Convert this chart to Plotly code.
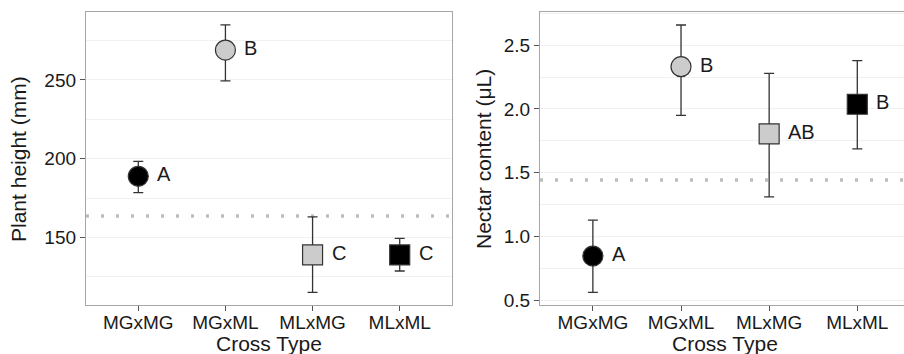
import plotly.graph_objects as go
from plotly.subplots import make_subplots

categories = ["MGxMG", "MGxML", "MLxMG", "MLxML"]

height_mean = [188.8, 269.0, 138.8, 138.8]
height_upper = [198.3, 285.0, 163.0, 149.4]
height_lower = [178.4, 249.4, 115.0, 128.6]
height_letters = ["A", "B", "C", "C"]
height_ref = 163.5

nectar_mean = [0.845, 2.332, 1.804, 2.037]
nectar_upper = [1.128, 2.659, 2.280, 2.379]
nectar_lower = [0.560, 1.950, 1.309, 1.686]
nectar_letters = ["A", "B", "AB", "B"]
nectar_ref = 1.443

symbols = ["circle", "circle", "square", "square"]
fills = ["#000000", "#cccccc", "#cccccc", "#000000"]

FONT = "Liberation Sans, Arial, Helvetica, sans-serif"
TXT = "#1a1a1a"

W, H = 904, 354
MT, MB = 12, 49
PH = H - MT - MB

fig = make_subplots(rows=1, cols=2)


def add_panel(col, mean, upper, lower, letters, ref):
    xi = [i + 1 for i in range(len(categories))]
    fig.add_trace(
        go.Scatter(
            x=xi, y=mean, mode="markers",
            marker=dict(symbol=symbols, size=20, color=fills,
                        line=dict(color="#333333", width=1.2)),
            error_y=dict(type="data", symmetric=False,
                         array=[u - m for u, m in zip(upper, mean)],
                         arrayminus=[m - l for m, l in zip(mean, lower)],
                         color="#333333", thickness=1.3, width=5),
            showlegend=False, hoverinfo="skip",
        ),
        row=1, col=col,
    )
    fig.add_hline(y=ref, line=dict(color="#bdbdbd", width=3.5, dash="3px,12px"),
                  layer="below", row=1, col=col)
    xr = "x" if col == 1 else "x2"
    yr = "y" if col == 1 else "y2"
    for x, y, t in zip(xi, mean, letters):
        fig.add_annotation(x=x, y=y, xref=xr, yref=yr, text=t, showarrow=False,
                           xanchor="left", yanchor="middle", xshift=17, yshift=2,
                           font=dict(family=FONT, size=20, color=TXT))


add_panel(1, height_mean, height_upper, height_lower, height_letters, height_ref)
add_panel(2, nectar_mean, nectar_upper, nectar_lower, nectar_letters, nectar_ref)

axis_common = dict(showline=True, linecolor="#a6a6a6", linewidth=1.3, mirror=True,
                   ticks="outside", ticklen=5, tickcolor="#555555", tickwidth=1,
                   tickfont=dict(family=FONT, size=19, color=TXT), zeroline=False,
                   automargin=False)

fig.update_xaxes(**axis_common, showgrid=False, tickmode="array",
                 tickvals=[1, 2, 3, 4], ticktext=categories, ticklabelstandoff=-5)
fig.update_xaxes(range=[0.4, 4.6], domain=[86 / W, 452 / W], row=1, col=1)
fig.update_xaxes(range=[0.4, 4.53], domain=[540 / W, 1.0], row=1, col=2)

fig.update_yaxes(**axis_common, showgrid=False, ticklabelstandoff=0)
fig.update_yaxes(range=[107, 293.2], tickvals=[150, 200, 250],
                 minor=dict(dtick=25, tick0=125, showgrid=True, gridcolor="#f1f1f1",
                            gridwidth=1, ticks=""),
                 row=1, col=1)
fig.update_yaxes(range=[0.461, 2.761], tickvals=[0.5, 1.0, 1.5, 2.0, 2.5],
                 tickformat=".1f",
                 minor=dict(dtick=0.25, tick0=0.25, showgrid=True, gridcolor="#f1f1f1",
                            gridwidth=1, ticks=""),
                 row=1, col=2)

title_font = dict(family=FONT, size=21, color=TXT)


def py(pix):
    return (H - MB - pix) / PH


# axis titles
fig.add_annotation(text="Cross Type", x=269 / W, y=py(343), xref="paper", yref="paper",
                   showarrow=False, xanchor="center", yanchor="middle", font=title_font)
fig.add_annotation(text="Cross Type", x=725 / W, y=py(343), xref="paper", yref="paper",
                   showarrow=False, xanchor="center", yanchor="middle", font=title_font)
fig.add_annotation(text="Plant height (mm)", x=18 / W, y=py(159), xref="paper", yref="paper",
                   showarrow=False, xanchor="center", yanchor="middle", textangle=-90,
                   font=title_font)
fig.add_annotation(text="Nectar content (μL)", x=483 / W, y=py(159), xref="paper",
                   yref="paper", showarrow=False, xanchor="center", yanchor="middle",
                   textangle=-90, font=title_font)

fig.update_layout(
    width=W, height=H,
    margin=dict(l=0, r=0, t=MT, b=MB),
    plot_bgcolor="white", paper_bgcolor="white",
    font=dict(family=FONT, color=TXT),
)

fig.write_html("out.html", config={"displayModeBar": False},
               post_script="document.body.style.margin='0';")
